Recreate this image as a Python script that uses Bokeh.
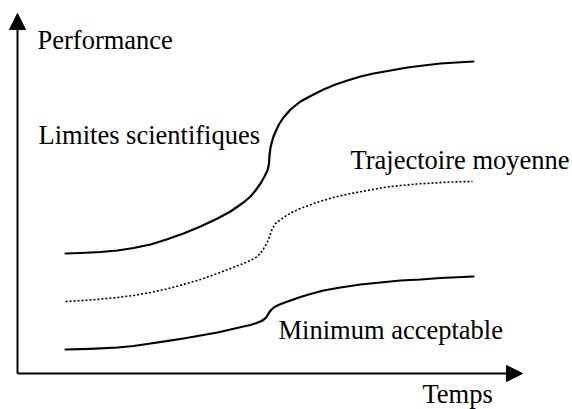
from bokeh.plotting import figure
from bokeh.models import Range1d, Arrow, NormalHead, ColumnDataSource
from bokeh.core.properties import value
from bokeh.embed import file_html
from bokeh.resources import INLINE

# Time (arbitrary units) and performance values
top_t = [48, 63, 83, 100, 116, 133, 149, 166, 183, 200, 213, 226, 233, 238, 243, 247, 250, 251.5, 252, 253,
         254.5, 256, 259, 262, 266, 273, 283, 294, 306, 318, 330, 343, 356, 373, 390, 406, 423, 439, 456]
top_perf = [120, 120.5, 121.5, 123, 125.5, 129, 134, 140, 147, 155, 162, 171, 177, 183, 190, 197, 203, 210, 218, 226,
            232, 237, 244, 250, 256, 264, 272, 278, 284, 289, 293, 297, 300, 303, 306, 308, 310, 311, 312]

mid_t = [48, 73, 100, 116, 133, 149, 166, 183, 200, 213, 226, 233, 240, 245, 248, 251, 253, 255, 258, 262, 266,
         274, 283, 299, 316, 333, 350, 366, 383, 399, 416, 433, 455]
mid_perf = [72, 73.5, 76, 78, 81, 84.5, 89, 94, 100, 105, 110, 113, 117, 123, 128, 134, 140, 145, 150, 153, 156,
            161, 165, 171, 176, 180, 183, 186, 188, 189.5, 190.5, 191.5, 192]

low_t = [48, 73, 100, 116, 133, 149, 166, 183, 200, 213, 226, 233, 239, 244, 247, 249, 250.5, 252, 254, 257, 261,
         266, 273, 283, 293, 306, 323, 343, 363, 383, 403, 423, 456]
low_perf = [24, 24.7, 26, 27.5, 30, 32.3, 35, 38, 41, 44, 47, 48.5, 50.5, 52.5, 54.5, 56.5, 59, 61.5, 64, 66.5, 68.5,
            70.5, 73, 76.5, 79.5, 83, 86, 89, 91, 93, 94, 95.5, 97]

axis_t_max = 505
axis_perf_max = 360

labels = ["Performance", "Limites scientifiques", "Trajectoire moyenne", "Minimum acceptable", "Temps"]
label_t = [20, 21, 333, 261, 405]
label_perf = [334, 239, 214, 44, -20.5]

p = figure(width=572, height=409, output_backend="svg", toolbar_location=None, title=None,
           x_range=Range1d(-17, 555), y_range=Range1d(-36, 373),
           min_border=0, min_border_left=0, min_border_right=0,
           min_border_top=0, min_border_bottom=0)
p.axis.visible = False
p.grid.visible = False
p.outline_line_color = None
p.background_fill_color = "white"
p.border_fill_color = "white"

# axes with arrow heads
p.add_layout(Arrow(end=NormalHead(size=16, fill_color="black", line_color="black"),
                   x_start=0, y_start=0, x_end=0, y_end=axis_perf_max,
                   line_width=2, line_color="black"))
p.add_layout(Arrow(end=NormalHead(size=16, fill_color="black", line_color="black"),
                   x_start=0, y_start=0, x_end=axis_t_max, y_end=0,
                   line_width=2, line_color="black"))

p.line(top_t, top_perf, line_width=2.2, line_color="black", line_join="round", line_cap="round")
p.line(mid_t, mid_perf, line_width=1.6, line_color="black", line_dash="2 2")
p.line(low_t, low_perf, line_width=2.2, line_color="black", line_join="round", line_cap="round")

src = ColumnDataSource(dict(x=label_t, y=label_perf, text=labels))
p.text(x="x", y="y", text="text", source=src, text_font=value("Liberation Serif"),
       text_font_size="26.5px", text_color="black", text_align="left",
       text_baseline="alphabetic")

open("out.html", "w").write(file_html(p, INLINE))
